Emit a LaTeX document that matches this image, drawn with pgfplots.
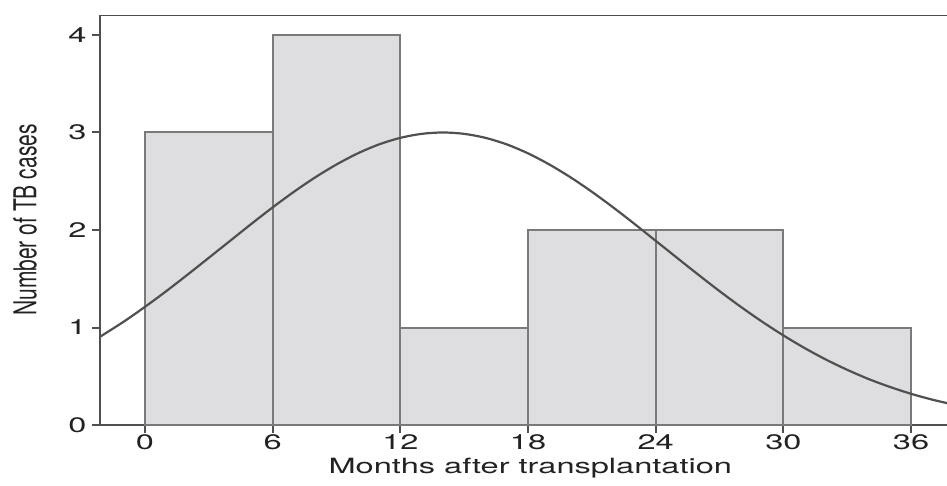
\documentclass[border=0pt]{standalone}
\usepackage{pgfplots}
\pgfplotsset{compat=1.18}
\usepackage{fontspec}
\setmainfont{TeX Gyre Heros}
\definecolor{barfill}{HTML}{DEDEE0}
\definecolor{baredge}{HTML}{7A7A7A}
\definecolor{axcol}{HTML}{505050}
\definecolor{txt}{HTML}{222222}
\begin{document}
\begin{tikzpicture}
\begin{axis}[
  scale only axis,
  width=847pt, height=410pt,
  xmin=-2.115, xmax=37.69,
  ymin=0, ymax=4.205,
  axis lines=left,
  axis line style={axcol, line width=2pt, -},
  xtick={0,6,12,18,24,30,36},
  ytick={0,1,2,3,4},
  tick align=outside,
  major tick length=8pt,
  tick style={axcol, line width=2pt},
  /pgf/number format/assume math mode=true,
  tick label style={font=\fontsize{21}{23}\selectfont, text=txt},
  xticklabel={\scalebox{1.55}[1]{\pgfmathprintnumber{\tick}}},
  yticklabel={\scalebox{1.55}[1]{\pgfmathprintnumber{\tick}}},
  yticklabel style={xshift=-2pt},
  xticklabel style={yshift=2pt},
  xlabel={\scalebox{1.55}[1]{Months after transplantation}},
  ylabel={\scalebox{1}[1.5]{Number of TB cases}},
  label style={font=\fontsize{21}{23}\selectfont, text=txt},
  xlabel style={at={(rel axis cs:0.508,0)}, anchor=center, yshift=-43pt},
  ylabel style={at={(rel axis cs:0,0.5)}, anchor=center, yshift=75pt},
  clip=true,
]
\addplot[ybar interval, fill=barfill, draw=baredge, line width=2pt]
  coordinates {(0,3) (6,4) (12,1) (18,2) (24,2) (30,1) (36,1)};
\addplot[smooth, no marks, axcol, line width=2.2pt] coordinates {
(-2.2,0.893) (-1,1.060) (0,1.212) (1,1.373) (2,1.542) (3,1.715) (4,1.889) (5,2.063)
(6,2.232) (7,2.392) (8,2.540) (9,2.672) (10,2.786) (11,2.878) (12,2.945)
(13,2.986) (14,3.000) (15,2.986) (16,2.945) (17,2.878) (18,2.786) (19,2.672)
(20,2.540) (21,2.392) (22,2.232) (23,2.063) (24,1.889) (25,1.715) (26,1.542)
(27,1.373) (28,1.212) (29,1.060) (30,0.919) (31,0.789) (32,0.671) (33,0.566)
(34,0.472) (35,0.391) (36,0.320) (37,0.260) (38,0.209)};
\draw[axcol, line width=2pt] (rel axis cs:0,1) -- (rel axis cs:1,1);
\end{axis}
\pgfresetboundingbox
\path (-100pt,-60pt) rectangle (847pt,425pt);
\end{tikzpicture}
\end{document}
